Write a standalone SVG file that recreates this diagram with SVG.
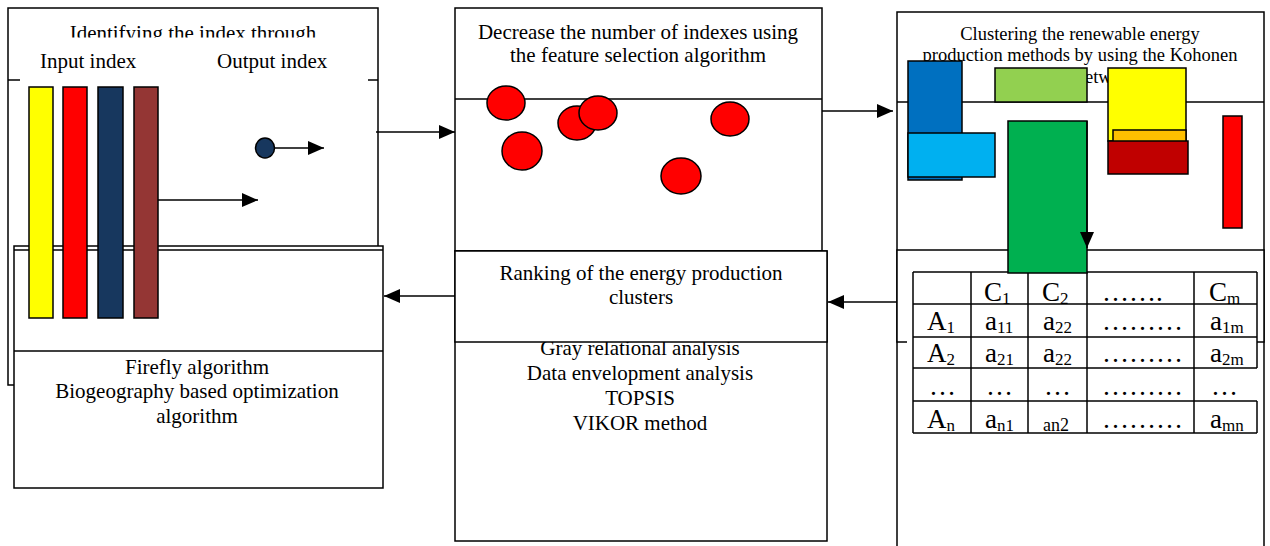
<svg xmlns="http://www.w3.org/2000/svg" width="1270" height="546" viewBox="0 0 1270 546">
<defs>
<style>
.box{fill:#fff;stroke:#000;stroke-width:1.5}
.ln{stroke:#000;stroke-width:1.5;fill:none}
.t{font-family:"Liberation Serif","Times New Roman",serif;font-size:21px;fill:#000}
.ts{font-family:"Liberation Serif","Times New Roman",serif;font-size:18.5px;fill:#000}
.tc{text-anchor:middle}
.tt{font-family:"Liberation Serif","Times New Roman",serif;font-size:27px;fill:#000}
.sub{font-size:17px}
.small{font-size:18px}
.sh{stroke:#000;stroke-width:1.5}
.arr{stroke:#000;stroke-width:1.5;fill:none;marker-end:url(#ah)}
</style>
<marker id="ah" markerUnits="userSpaceOnUse" markerWidth="16" markerHeight="14" refX="16" refY="7" orient="auto"><path d="M0,0 L16,7 L0,14 z" fill="#000"/></marker>
</defs>
<rect width="1270" height="546" fill="#fff"/>

<g id="node-identify">
<rect class="box" x="8" y="8" width="370" height="377"/>
<text class="t tc" x="193" y="40">Identifying the index through</text>
<line class="ln" x1="8" y1="80" x2="378" y2="80"/>
<rect x="20" y="37.5" width="348" height="44" fill="#fff"/>
<text class="t" x="40" y="68">Input index</text>
<text class="t" x="217" y="68">Output index</text>
</g>

<g id="node-optimize">
<rect class="box" x="14" y="246" width="369" height="242"/>
<line class="ln" x1="14" y1="250" x2="383" y2="250"/>
<line class="ln" x1="14" y1="351" x2="383" y2="351"/>
<text class="t tc" x="197" y="374">Firefly algorithm</text>
<text class="t tc" x="197" y="398">Biogeography based optimization</text>
<text class="t tc" x="197" y="423">algorithm</text>
</g>

<g id="index-bars">
<rect class="sh" x="29" y="87" width="24" height="231" fill="#FFFF00"/>
<rect class="sh" x="63" y="87" width="24" height="231" fill="#FF0000"/>
<rect class="sh" x="98" y="87" width="25" height="231" fill="#17375E"/>
<rect class="sh" x="134" y="87" width="24" height="231" fill="#943634"/>
<ellipse class="sh" cx="265" cy="148" rx="9.5" ry="10" fill="#17375E"/>
</g>

<g id="node-feature">
<rect class="box" x="455" y="8" width="367" height="243"/>
<line class="ln" x1="455" y1="99" x2="822" y2="99"/>
<text class="t tc" x="638" y="39">Decrease the number of indexes using</text>
<text class="t tc" x="638" y="62">the feature selection algorithm</text>
<ellipse class="sh" cx="506" cy="103" rx="19" ry="17" fill="#FF0000"/>
<ellipse class="sh" cx="522" cy="151" rx="20" ry="19" fill="#FF0000"/>
<ellipse class="sh" cx="577" cy="123" rx="19" ry="17" fill="#FF0000"/>
<ellipse class="sh" cx="598" cy="113" rx="19" ry="17" fill="#FF0000"/>
<ellipse class="sh" cx="730" cy="119" rx="19" ry="17" fill="#FF0000"/>
<ellipse class="sh" cx="681" cy="176" rx="20" ry="18" fill="#FF0000"/>
</g>

<g id="node-ranking">
<rect class="box" x="455" y="251" width="372" height="290"/>
<text class="t tc" x="640" y="355">Gray relational analysis</text>
<text class="t tc" x="640" y="380">Data envelopment analysis</text>
<text class="t tc" x="640" y="405">TOPSIS</text>
<text class="t tc" x="640" y="430">VIKOR method</text>
<rect class="box" x="455" y="251" width="372" height="91"/>
<text class="t tc" x="641" y="280">Ranking of the energy production</text>
<text class="t tc" x="641" y="304">clusters</text>
</g>

<g id="node-cluster">
<rect class="box" x="897" y="12" width="367" height="545"/>
<line class="ln" x1="897" y1="102" x2="1264" y2="102"/>
<text class="ts tc" x="1080" y="40">Clustering the renewable energy</text>
<text class="ts tc" x="1080" y="61">production methods by using the Kohonen</text>
<text class="ts" x="1085" y="83">etw</text>
</g>

<g id="node-matrix">
<rect class="box" x="897" y="250" width="367" height="92"/>
<rect x="907" y="264" width="350" height="176" fill="#fff"/>
<g class="ln">
<line x1="913" y1="272" x2="1257" y2="272"/>
<line x1="913" y1="304" x2="1257" y2="304"/>
<line x1="913" y1="337" x2="1257" y2="337"/>
<line x1="913" y1="368" x2="1257" y2="368"/>
<line x1="913" y1="401" x2="1257" y2="401"/>
<line x1="913" y1="433" x2="1257" y2="433"/>
<line x1="913" y1="272" x2="913" y2="433"/>
<line x1="971" y1="272" x2="971" y2="433"/>
<line x1="1028" y1="272" x2="1028" y2="433"/>
<line x1="1087" y1="272" x2="1087" y2="433"/>
<line x1="1194" y1="272" x2="1194" y2="433"/>
<line x1="1257" y1="272" x2="1257" y2="368"/>
<line x1="1257" y1="401" x2="1257" y2="433"/>
</g>
<text class="tt" x="984" y="301">C<tspan class="sub" dy="3">1</tspan></text>
<text class="tt" x="1042" y="301">C<tspan class="sub" dy="3">2</tspan></text>
<text class="tt" x="1102" y="301">…….</text>
<text class="tt" x="1209" y="301">C<tspan class="sub" dy="3">m</tspan></text>
<text class="tt" x="927" y="330">A<tspan class="sub" dy="3">1</tspan></text>
<text class="tt" x="985" y="330">a<tspan class="sub" dy="3">11</tspan></text>
<text class="tt" x="1043" y="330">a<tspan class="sub" dy="3">22</tspan></text>
<text class="tt" x="1102" y="330">………</text>
<text class="tt" x="1210" y="330">a<tspan class="sub" dy="3">1m</tspan></text>
<text class="tt" x="927" y="362">A<tspan class="sub" dy="3">2</tspan></text>
<text class="tt" x="985" y="362">a<tspan class="sub" dy="3">21</tspan></text>
<text class="tt" x="1043" y="362">a<tspan class="sub" dy="3">22</tspan></text>
<text class="tt" x="1102" y="362">………</text>
<text class="tt" x="1210" y="362">a<tspan class="sub" dy="3">2m</tspan></text>
<text class="tt" x="929" y="395">…</text>
<text class="tt" x="986" y="395">…</text>
<text class="tt" x="1044" y="395">…</text>
<text class="tt" x="1102" y="395">………</text>
<text class="tt" x="1211" y="395">…</text>
<text class="tt" x="927" y="428">A<tspan class="sub" dy="3">n</tspan></text>
<text class="tt" x="985" y="428">a<tspan class="sub" dy="3">n1</tspan></text>
<text class="tt small" x="1043" y="431">an2</text>
<text class="tt" x="1102" y="428">………</text>
<text class="tt" x="1210" y="428">a<tspan class="sub" dy="3">mn</tspan></text>
</g>

<g id="clusters">
<rect class="sh" x="908" y="61" width="54" height="119" fill="#0070C0"/>
<rect class="sh" x="908" y="133" width="87" height="44" fill="#00B0F0"/>
<rect class="sh" x="995" y="68" width="92" height="34" fill="#92D050"/>
<rect class="sh" x="1008" y="121" width="79" height="152" fill="#00B050"/>
<rect class="sh" x="1108" y="68" width="78" height="73" fill="#FFFF00"/>
<rect class="sh" x="1113" y="130" width="73" height="15" fill="#FFC000"/>
<rect class="sh" x="1108" y="141" width="80" height="33" fill="#C00000"/>
<rect class="sh" x="1223" y="116" width="19" height="112" fill="#FF0000"/>
</g>

<g id="connectors">
<line class="arr" x1="158" y1="200" x2="258" y2="200"/>
<line class="arr" x1="275" y1="148" x2="324" y2="148"/>
<line class="arr" x1="376" y1="132" x2="455" y2="132"/>
<line class="arr" x1="822" y1="111" x2="893" y2="111"/>
<line class="arr" x1="897" y1="302" x2="828" y2="302"/>
<line class="arr" x1="455" y1="296" x2="384" y2="296"/>
<line class="arr" x1="1087" y1="121" x2="1087" y2="248"/>
</g>
</svg>
